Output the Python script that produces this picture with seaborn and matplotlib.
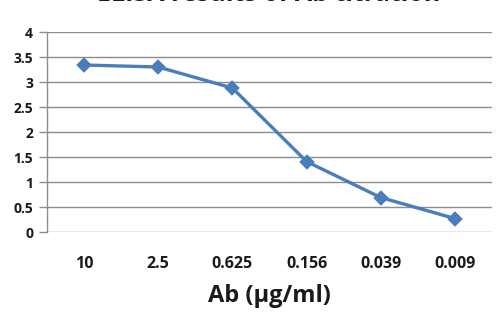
import matplotlib
matplotlib.use("Agg")
import matplotlib.pyplot as plt
import seaborn as sns

concentrations = ["10", "2.5", "0.625", "0.156", "0.039", "0.009"]
od_values = [3.34, 3.30, 2.88, 1.41, 0.69, 0.27]
y_ticks = [0, 0.5, 1, 1.5, 2, 2.5, 3, 3.5, 4]
y_tick_labels = ["0", "0.5", "1", "1.5", "2", "2.5", "3", "3.5", "4"]

sns.set_style("white")
plt.rcParams["font.family"] = ["Open Sans", "DejaVu Sans"]

fig = plt.figure(figsize=(5.03, 3.29), dpi=100)
ax = fig.add_axes([0.0934, 0.2948, 0.8846, 0.6079])

sns.pointplot(
    x=concentrations, y=od_values, order=concentrations,
    color="#4a7ebb", markers="D", markersize=6.5, linewidth=2.4, ax=ax,
)

ax.set_xlim(-0.5, 5.5)
ax.set_ylim(0, 4)
ax.set_yticks(y_ticks)
ax.set_yticklabels(y_tick_labels, fontsize=10, fontweight="bold", color="#1a1a1a")
ax.grid(axis="y", color="#8c8c8c", linewidth=1)
ax.set_axisbelow(True)

for side in ["top", "right", "bottom"]:
    ax.spines[side].set_visible(False)
ax.spines["left"].set_color("#8c8c8c")
ax.spines["left"].set_linewidth(1)

ax.tick_params(axis="y", length=6, color="#8c8c8c", width=1, pad=4, left=True)
ax.tick_params(axis="x", length=0, pad=17)
for lbl in ax.get_xticklabels():
    lbl.set_fontsize(11.5)
    lbl.set_fontweight("bold")
    lbl.set_color("#1a1a1a")

ax.set_xlabel("Ab (μg/ml)", fontsize=17, fontweight="bold", labelpad=9, color="#1a1a1a")
ax.set_ylabel("")

# title is cut off at the top edge in the source picture
fig.text(0.535, 1 - 1 / 329, "ELISA results of Ab titration", ha="center", va="baseline",
         fontsize=18, fontweight="bold", color="#1a1a1a")

fig.savefig("out.png", dpi=100)
